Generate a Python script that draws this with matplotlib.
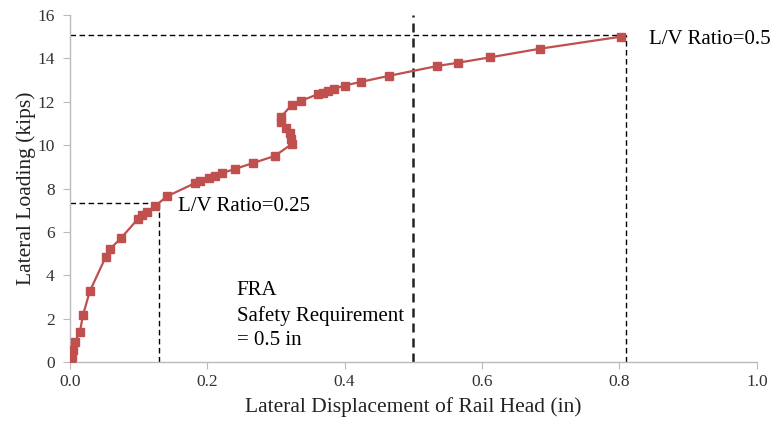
import matplotlib
matplotlib.use("Agg")
import matplotlib.pyplot as plt

# Data (lateral displacement in inches, lateral load in kips)
disp = [0.000, 0.001, 0.003, 0.004, 0.007, 0.0145, 0.019, 0.029, 0.052, 0.058,
        0.074, 0.099, 0.105, 0.112, 0.124, 0.142, 0.182, 0.189, 0.203, 0.211,
        0.221, 0.240, 0.266, 0.298, 0.323, 0.322, 0.320, 0.315, 0.308, 0.307,
        0.323, 0.337, 0.361, 0.368, 0.375, 0.385, 0.400, 0.424, 0.465, 0.535,
        0.565, 0.612, 0.685, 0.802]
load = [0.00, 0.10, 0.25, 0.55, 0.92, 1.38, 2.17, 3.27, 4.84, 5.20,
        5.70, 6.60, 6.77, 6.90, 7.20, 7.65, 8.25, 8.33, 8.50, 8.60,
        8.71, 8.90, 9.17, 9.50, 10.05, 10.30, 10.55, 10.80, 11.06, 11.30,
        11.85, 12.05, 12.35, 12.42, 12.50, 12.60, 12.75, 12.92, 13.20, 13.65,
        13.80, 14.05, 14.45, 15.00]

lv_labels = ["L/V Ratio=0.25", "L/V Ratio=0.5"]
lv_x = [0.13, 0.81]
lv_y = [7.33, 15.1]
fra_x = 0.5
fra_text = "FRA\nSafety Requirement\n= 0.5 in"

xticks = [0.0, 0.2, 0.4, 0.6, 0.8, 1.0]
yticks = [0, 2, 4, 6, 8, 10, 12, 14, 16]

plt.rcParams['font.family'] = ['Liberation Serif', 'DejaVu Serif']

fig = plt.figure(figsize=(7.77, 4.29), dpi=100)
ax = fig.add_axes([0.090, 0.156, 0.884, 0.809])

red = '#C0504D'
ax.plot(disp, load, color=red, lw=1.6, marker='s', ms=6, mfc=red, mec=red, zorder=3)

# L/V ratio guide lines
for xv, yv in zip(lv_x, lv_y):
    ax.plot([0, xv], [yv, yv], color='black', ls=(0, (4, 2.5)), lw=1.0, zorder=2)
    ax.plot([xv, xv], [0, yv], color='black', ls=(0, (4, 2.5)), lw=1.0, zorder=2)

# FRA requirement line
ax.plot([fra_x, fra_x], [0, 16], color='#222222', ls=(0, (3.6, 2.4)), lw=1.8, zorder=2)

ax.text(0.157, 7.15, lv_labels[0], fontsize=15, va='center', ha='left')
ax.text(0.843, 14.85, lv_labels[1], fontsize=15, va='center', ha='left')
ax.text(0.243, 3.75, fra_text, fontsize=15, va='top', ha='left', linespacing=1.4)

ax.set_xlim(0, 1.0)
ax.set_ylim(0, 16)
ax.set_xticks(xticks)
ax.set_yticks(yticks)
ax.set_xticklabels([f"{v:.1f}" for v in xticks])
ax.set_yticklabels([str(v) for v in yticks])
ax.tick_params(axis='both', labelsize=12.5, colors='#333333', direction='out', length=5, color='#BBBBBB')
ax.tick_params(axis='y', pad=6)

for s in ['top', 'right']:
    ax.spines[s].set_visible(False)
for s in ['left', 'bottom']:
    ax.spines[s].set_color('#BBBBBB')
    ax.spines[s].set_linewidth(1.0)

ax.set_xlabel("Lateral Displacement of Rail Head (in)", fontsize=15.5, color='#222222', labelpad=5)
ax.set_ylabel("Lateral Loading (kips)", fontsize=15.5, color='#222222')
ax.yaxis.set_label_coords(-0.050, 0.5)

fig.savefig("out.png", dpi=100)
